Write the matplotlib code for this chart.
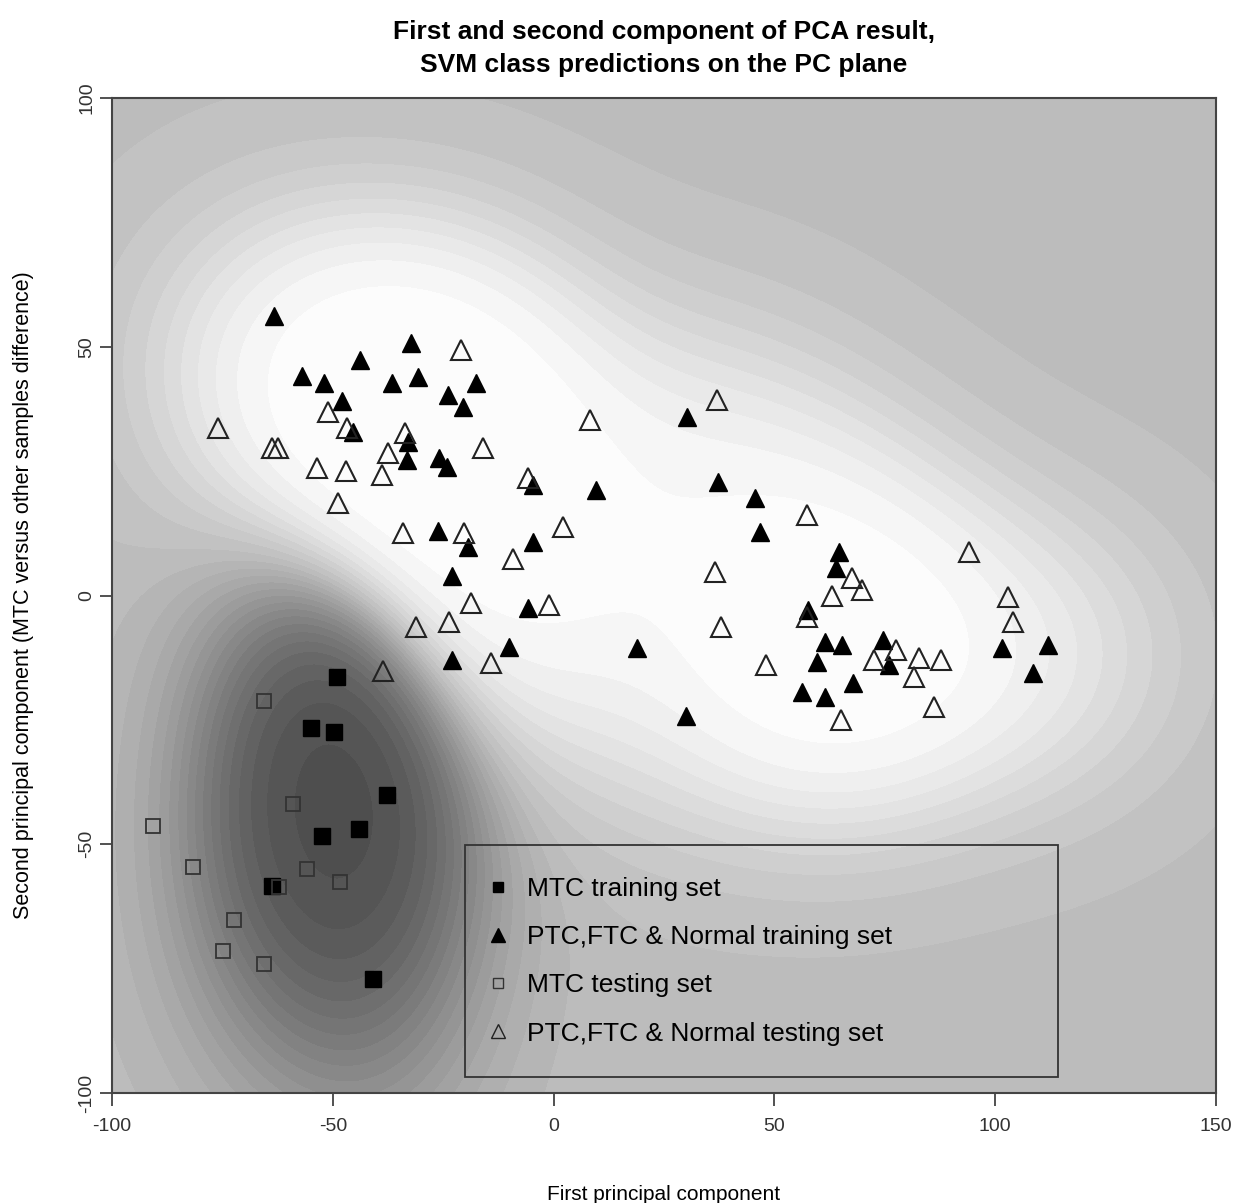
import matplotlib
matplotlib.use("Agg")
import matplotlib.pyplot as plt
import numpy as np
from matplotlib.patches import Rectangle

plt.rcParams['font.family'] = ['Liberation Sans Narrow', 'Liberation Sans', 'DejaVu Sans']
plt.rcParams['axes.unicode_minus'] = False

# MTC training set (filled squares)
mtc_train_x = [-49.0, -54.9, -49.7, -37.7, -44.1, -52.4, -63.8, -40.9]
mtc_train_y = [-16.4, -26.6, -27.4, -40.1, -46.9, -48.3, -58.4, -77.1]

# MTC testing set (open squares)
mtc_test_x = [-65.6, -59.0, -90.7, -81.7, -55.8, -48.4, -62.2, -72.4, -74.9, -65.6]
mtc_test_y = [-21.2, -41.9, -46.3, -54.6, -55.0, -57.6, -58.6, -65.2, -71.5, -74.1]

# PTC, FTC & Normal training set (filled triangles)
ptc_train_x = [-63.3, -57.0, -52.0, -47.9, -45.4, -43.8, -32.3, -36.6, -30.7, -23.9,
               -17.6, -20.5, -33.0, -33.2, -25.9, -24.1, -26.2, -19.4, -23.0, -23.0,
               -10.1, -4.7, -4.7, -5.8, 9.6, 18.8, 30.2, 37.2, 45.6, 46.7,
               30.0, 64.6, 64.0, 57.6, 61.5, 65.3, 74.6, 76.0, 59.6, 67.8,
               56.3, 61.5, 101.5, 112.0, 108.6]
ptc_train_y = [56.2, 44.1, 42.7, 39.1, 32.9, 47.3, 50.8, 42.7, 43.9, 40.3,
               42.7, 37.9, 30.9, 27.2, 27.6, 25.8, 13.0, 9.8, 3.9, -13.0,
               -10.4, 22.2, 10.8, -2.5, 21.2, -10.6, 35.9, 22.8, 19.6, 12.8,
               -24.2, 8.7, 5.5, -2.9, -9.3, -9.9, -8.9, -14.0, -13.4, -17.6,
               -19.4, -20.4, -10.6, -10.0, -15.6]

# PTC, FTC & Normal testing set (open triangles)
ptc_test_x = [-76.0, -63.8, -62.4, -51.1, -46.8, -53.6, -47.0, -38.9, -48.8, -33.6,
              -37.5, -16.0, -34.1, -20.3, -18.7, -31.2, -23.7, -14.2, -38.6, -9.2,
              -21.0, -5.7, 2.1, -1.0, 8.2, 37.0, 57.4, 67.6, 69.8, 36.5,
              63.0, 57.4, 37.9, 77.5, 72.6, 82.7, 87.7, 81.6, 65.1, 86.1,
              48.1, 94.1, 102.9, 104.0]
ptc_test_y = [33.7, 29.6, 29.6, 36.9, 33.7, 25.6, 25.0, 24.2, 18.6, 32.7,
              28.6, 29.6, 12.6, 12.6, -1.5, -6.3, -5.3, -13.6, -15.2, 7.3,
              49.3, 23.6, 13.8, -1.9, 35.3, 39.3, 16.2, 3.5, 1.1, 4.7,
              -0.1, -4.3, -6.3, -11.0, -13.0, -12.6, -13.0, -16.4, -25.0, -22.4,
              -14.0, 8.7, -0.3, -5.3]

# background: kernel-based class score on the PC plane, built from the training points
gx, gy = np.meshgrid(np.linspace(-100, 150, 400), np.linspace(-100, 100, 320))
P = np.zeros_like(gx)
for x0, y0 in zip(ptc_train_x, ptc_train_y):
    P += np.exp(-((gx - x0) ** 2 / (2 * 24 ** 2) + (gy - y0) ** 2 / (2 * 20 ** 2)))
M = np.zeros_like(gx)
for x0, y0 in zip(mtc_train_x, mtc_train_y):
    M += np.exp(-((gx - x0) ** 2 / (2 * 19 ** 2) + (gy - y0) ** 2 / (2 * 28 ** 2)))
d = P - 2.0 * M
g = np.where(d > 0, 0.74 + 0.26 * np.tanh(d / 5.0), 0.74 - 0.46 * np.tanh(-d / 7.0))

fig = plt.figure(figsize=(12.46, 12.03), dpi=100)
ax = fig.add_axes([0.0899, 0.0914, 0.886, 0.8271])
ax.contourf(gx, gy, g, levels=np.linspace(0.27, 1.0, 30), cmap='gray', vmin=0, vmax=1)

ax.plot(mtc_train_x, mtc_train_y, 's', color='black', ms=11, ls='none')
ax.plot(ptc_train_x, ptc_train_y, '^', color='black', ms=13, ls='none')
ax.plot(mtc_test_x, mtc_test_y, 's', mfc='none', mec='#333333', mew=1.3, ms=10, ls='none')
ax.plot(ptc_test_x, ptc_test_y, '^', mfc='none', mec='#222222', mew=1.5, ms=14, ls='none')

ax.set_xlim(-100, 150)
ax.set_ylim(-100, 100)
ax.set_xticks([-100, -50, 0, 50, 100, 150])
ax.set_yticks([-100, -50, 0, 50, 100])
ax.tick_params(direction='out', length=9, width=1.2, labelsize=14, colors='#333333')
ax.tick_params(axis='x', pad=9)
ax.tick_params(axis='y', pad=3)
for lab in ax.get_yticklabels():
    lab.set_rotation(90)
    lab.set_va('center')
for s in ax.spines.values():
    s.set_linewidth(1.5)
    s.set_color('#444444')

ax.set_title('First and second component of PCA result,\nSVM class predictions on the PC plane',
             fontsize=19, fontweight='bold', pad=19, linespacing=1.45)
ax.set_xlabel('First principal component', fontsize=15, labelpad=36)
ax.set_ylabel('Second principal component (MTC versus other samples difference)', fontsize=15.5, labelpad=32)

# legend box
ax.add_patch(Rectangle((0.3197, 0.0161), 0.537, 0.233, transform=ax.transAxes,
                       fill=False, edgecolor='#333333', lw=1.3, zorder=5))
h1, = ax.plot([], [], 's', color='black', ms=7)
h2, = ax.plot([], [], '^', color='black', ms=10)
h3, = ax.plot([], [], 's', mfc='none', mec='#333333', mew=1.0, ms=7)
h4, = ax.plot([], [], '^', mfc='none', mec='#222222', mew=1.0, ms=10)
ax.legend([h1, h2, h3, h4],
          ['MTC training set', 'PTC,FTC & Normal training set', 'MTC testing set',
           'PTC,FTC & Normal testing set'],
          loc='center left', bbox_to_anchor=(0.314, 0.1325), frameon=False,
          fontsize=19, labelspacing=0.92, handletextpad=0.5, handlelength=1.2)

fig.savefig('out.png', dpi=100)
